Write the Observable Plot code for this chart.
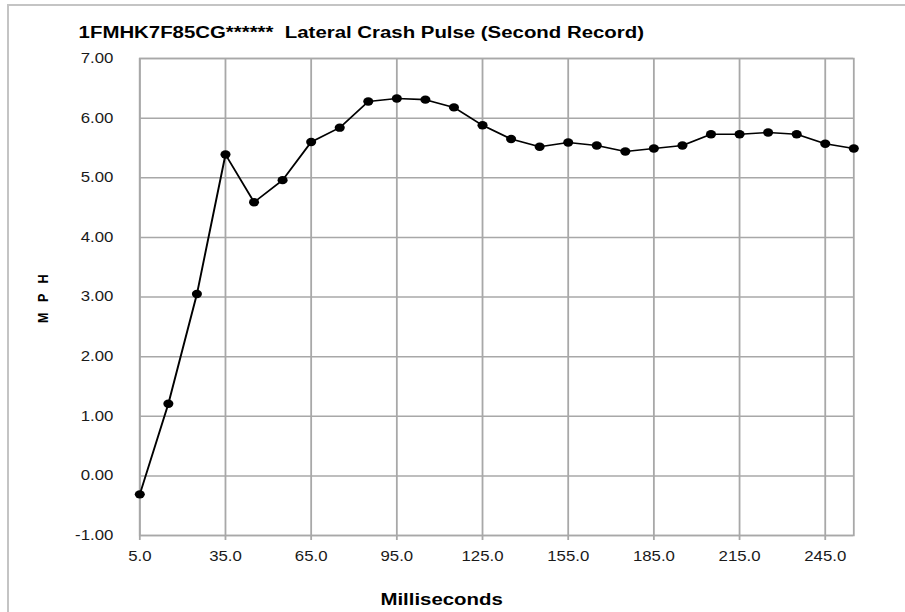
<!DOCTYPE html>
<html>
<head>
<meta charset="utf-8">
<script src="https://cdn.jsdelivr.net/npm/d3@7"></script>
<script src="https://cdn.jsdelivr.net/npm/@observablehq/plot@0.6"></script>
<style>
html, body { margin: 0; padding: 0; background: #fff; width: 905px; height: 612px; overflow: hidden; position: relative; }
#chart { position: absolute; left: 0; top: 0; transform: scaleX(1.2); transform-origin: 0 0; }
#border { position: absolute; left: 7px; top: 4px; width: 1000px; height: 700px; border-left: 2px solid #c4c4c4; border-top: 2px solid #c4c4c4; z-index: 2; pointer-events: none; }
#chart svg text { white-space: pre; }
</style>
</head>
<body>
<div id="chart"></div>
<div id="border"></div>
<script>
const title = "1FMHK7F85CG******  Lateral Crash Pulse (Second Record)";
const xLabel = "Milliseconds";
const yLabel = "M P H";
const ms = [5, 15, 25, 35, 45, 55, 65, 75, 85, 95, 105, 115, 125, 135, 145, 155, 165, 175, 185, 195, 205, 215, 225, 235, 245, 255];
const mph = [-0.31, 1.21, 3.05, 5.39, 4.59, 4.96, 5.60, 5.84, 6.28, 6.33, 6.31, 6.18, 5.88, 5.65, 5.52, 5.59, 5.54, 5.44, 5.49, 5.54, 5.73, 5.73, 5.76, 5.73, 5.57, 5.49];
const xTicks = [5, 35, 65, 95, 125, 155, 185, 215, 245];
const yTicks = [-1, 0, 1, 2, 3, 4, 5, 6, 7];

const data = ms.map((t, i) => ({t, v: mph[i]}));
const grid = "#a8a8a8";

const plot = Plot.plot({
  width: 754,
  height: 612,
  marginLeft: 116,
  marginRight: 43,
  marginTop: 58,
  marginBottom: 77,
  style: {fontFamily: "'Liberation Sans', Arial, sans-serif", fontSize: "14px", color: "#1a1a1a", background: "transparent", overflow: "visible"},
  x: {domain: [5, 255], ticks: xTicks, tickFormat: d => d.toFixed(1), tickSize: 0, tickPadding: 16, label: null},
  y: {domain: [-1, 7], ticks: yTicks, tickFormat: d => d.toFixed(2), tickSize: 0, tickPadding: 22, label: null},
  marks: [
    Plot.ruleY(yTicks, {stroke: grid, strokeWidth: 1.5}),
    Plot.ruleX(xTicks, {insetBottom: -5, stroke: grid, strokeWidth: 1.5}),
    Plot.frame({stroke: grid, strokeWidth: 1.5}),
    Plot.line(data, {x: "t", y: "v", stroke: "#000", strokeWidth: 1.6}),
    Plot.dot(data, {x: "t", y: "v", r: 4.2, fill: "#000", stroke: "none"}),
    Plot.text([title], {text: d => d, frameAnchor: "top-left", dx: -51, dy: -33, textAnchor: "start", fontWeight: "bold", fontSize: 17, fill: "#000"}),
    Plot.text([xLabel], {text: d => d, frameAnchor: "bottom", dx: -46, dy: 69, fontWeight: "bold", fontSize: 17, fill: "#000"}),
    Plot.text([yLabel], {text: d => d, frameAnchor: "left", dx: -80.6, dy: 26, rotate: -90, fontWeight: "bold", fontSize: 12.5, fill: "#000"})
  ]
});
d3.select(plot).selectAll("text").filter(function() { return this.textContent === yLabel; }).style("letter-spacing", "3.5px");
document.getElementById("chart").appendChild(plot);
</script>
</body>
</html>
